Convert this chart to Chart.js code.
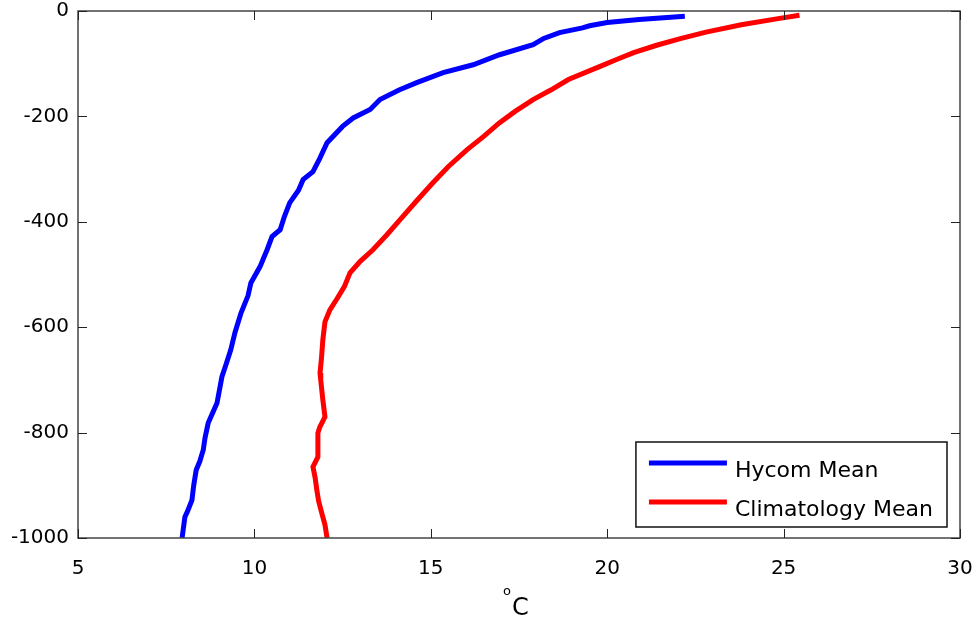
<!DOCTYPE html>
<html>
<head>
<meta charset="utf-8">
<script src="https://cdn.jsdelivr.net/npm/chart.js@4/dist/chart.umd.min.js"></script>
<style>
  html, body { margin: 0; padding: 0; background: #fff; }
  #wrap { width: 973px; height: 617px; }
</style>
</head>
<body>
<div id="wrap"><canvas id="tempChart"></canvas></div>
<script>
// depth profiles (depth in m, temperature in degC)
let hycomDepth = [-10, -16, -22, -28, -32, -41, -52, -64, -83, -102, -117, -136, -150, -168, -187, -203, -219, -250, -280, -305, -320, -340, -364, -390, -415, -428, -453, -485, -516, -540, -573, -610, -643, -670, -694, -744, -782, -810, -833, -855, -871, -900, -928, -950, -960, -1000];
let hycomTemp  = [22.2, 20.9, 20.0, 19.5, 19.3, 18.65, 18.2, 17.9, 16.95, 16.2, 15.35, 14.6, 14.1, 13.56, 13.28, 12.8, 12.5, 12.06, 11.85, 11.66, 11.38, 11.25, 11.0, 10.85, 10.73, 10.5, 10.36, 10.16, 9.9, 9.82, 9.62, 9.45, 9.33, 9.2, 9.08, 8.94, 8.69, 8.6, 8.55, 8.45, 8.35, 8.28, 8.23, 8.1, 8.03, 7.95];

let climDepth = [-8, -15, -26, -40, -52, -65, -79, -91, -105, -130, -150, -168, -190, -212, -238, -263, -295, -326, -360, -396, -425, -453, -475, -497, -523, -545, -567, -590, -624, -660, -687, -700, -738, -770, -790, -801, -846, -865, -885, -909, -930, -953, -975, -1000];
let climTemp  = [25.45, 24.8, 23.8, 22.8, 22.1, 21.4, 20.75, 20.3, 19.8, 18.9, 18.4, 17.9, 17.4, 16.95, 16.5, 16.03, 15.5, 15.06, 14.6, 14.13, 13.75, 13.36, 13.0, 12.71, 12.55, 12.35, 12.14, 12.0, 11.94, 11.9, 11.86, 11.88, 11.94, 12.0, 11.85, 11.8, 11.8, 11.66, 11.72, 11.77, 11.82, 11.91, 12.0, 12.06];

let seriesNames = ["Hycom Mean", "Climatology Mean"];
let xTicks = [5, 10, 15, 20, 25, 30];
let yTicks = [0, -200, -400, -600, -800, -1000];
let xUnit = "C";

let fontFam = '"DejaVu Sans", sans-serif';
let toPoints = (temps, depths) => temps.map((t, i) => ({ x: t, y: depths[i] }));

// box round the plot with inward ticks, like matlab does
const boxTicks = {
  id: 'boxTicks',
  afterDatasetsDraw(chart) {
    const ctx = chart.ctx;
    const a = chart.chartArea;
    const xs = chart.scales.x, ys = chart.scales.y;
    ctx.save();
    ctx.strokeStyle = '#444';
    ctx.lineWidth = 1.5;
    ctx.strokeRect(a.left, a.top, a.right - a.left, a.bottom - a.top);
    ctx.strokeStyle = '#222';
    ctx.lineWidth = 1;
    ctx.beginPath();
    xTicks.forEach(v => {
      let px = Math.round(xs.getPixelForValue(v)) + 0.5;
      ctx.moveTo(px, a.bottom); ctx.lineTo(px, a.bottom - 9);
      ctx.moveTo(px, a.top); ctx.lineTo(px, a.top + 9);
    });
    yTicks.forEach(v => {
      let py = Math.round(ys.getPixelForValue(v)) + 0.5;
      ctx.moveTo(a.left, py); ctx.lineTo(a.left + 9, py);
      ctx.moveTo(a.right, py); ctx.lineTo(a.right - 9, py);
    });
    ctx.stroke();

    // x label: raised degree ring then C
    let cx = (a.left + a.right) / 2;
    ctx.fillStyle = '#000';
    ctx.textAlign = 'left';
    ctx.textBaseline = 'alphabetic';
    ctx.font = '13px ' + fontFam;
    ctx.fillText('o', cx - 16, 595);
    ctx.font = '24px ' + fontFam;
    ctx.fillText(xUnit, cx - 7, 615);
    ctx.restore();
  }
};

// legend drawn inside the lower right corner
const insideLegend = {
  id: 'insideLegend',
  afterDraw(chart) {
    const ctx = chart.ctx;
    const a = chart.chartArea;
    ctx.save();
    ctx.font = '22px ' + fontFam;
    let textW = Math.max(...chart.data.datasets.map(d => ctx.measureText(d.label).width));
    let boxW = 13 + 78 + 8 + textW + 14;
    let boxH = 85;
    let bx = a.right - 13 - boxW;
    let by = a.bottom - 11 - boxH;
    ctx.fillStyle = '#fff';
    ctx.fillRect(bx, by, boxW, boxH);
    ctx.strokeStyle = '#111';
    ctx.lineWidth = 1.5;
    ctx.strokeRect(bx, by, boxW, boxH);
    chart.data.datasets.forEach((d, i) => {
      let ly = by + 21 + i * 39;
      ctx.strokeStyle = d.borderColor;
      ctx.lineWidth = 5;
      ctx.beginPath();
      ctx.moveTo(bx + 13, ly);
      ctx.lineTo(bx + 91, ly);
      ctx.stroke();
      ctx.fillStyle = '#000';
      ctx.textBaseline = 'alphabetic';
      ctx.fillText(d.label, bx + 99, ly + 14);
    });
    ctx.restore();
  }
};

const ctx = document.getElementById('tempChart').getContext('2d');
let myChart = new Chart(ctx, {
  type: 'scatter',
  data: {
    datasets: [
      {
        label: seriesNames[0],
        data: toPoints(hycomTemp, hycomDepth),
        borderColor: '#0000ff',
        backgroundColor: '#0000ff',
        showLine: true,
        borderWidth: 5,
        pointRadius: 0
      },
      {
        label: seriesNames[1],
        data: toPoints(climTemp, climDepth),
        borderColor: '#ff0000',
        backgroundColor: '#ff0000',
        showLine: true,
        borderWidth: 5,
        pointRadius: 0
      }
    ]
  },
  options: {
    responsive: true,
    maintainAspectRatio: false,
    animation: false,
    layout: { padding: { top: 11, right: 13, left: 0, bottom: 0 } },
    plugins: {
      legend: { display: false },
      tooltip: { enabled: false }
    },
    scales: {
      x: {
        type: 'linear',
        min: 5,
        max: 30,
        afterBuildTicks: s => { s.ticks = xTicks.map(v => ({ value: v })); },
        afterFit: s => { s.height = 79; s.paddingLeft = 0; s.paddingRight = 0; },
        grid: { display: false, drawTicks: false },
        border: { display: false },
        ticks: { color: '#000', padding: 19, maxRotation: 0, callback: v => String(v), font: { size: 20, family: fontFam } }
      },
      y: {
        type: 'linear',
        min: -1000,
        max: 0,
        afterBuildTicks: s => { s.ticks = yTicks.map(v => ({ value: v })); },
        afterFit: s => { s.width = 78; s.paddingTop = 0; s.paddingBottom = 0; },
        grid: { display: false, drawTicks: false },
        border: { display: false },
        ticks: { color: '#000', padding: 9, callback: v => String(v), font: { size: 20, family: fontFam } }
      }
    }
  },
  plugins: [boxTicks, insideLegend]
});
</script>
</body>
</html>
